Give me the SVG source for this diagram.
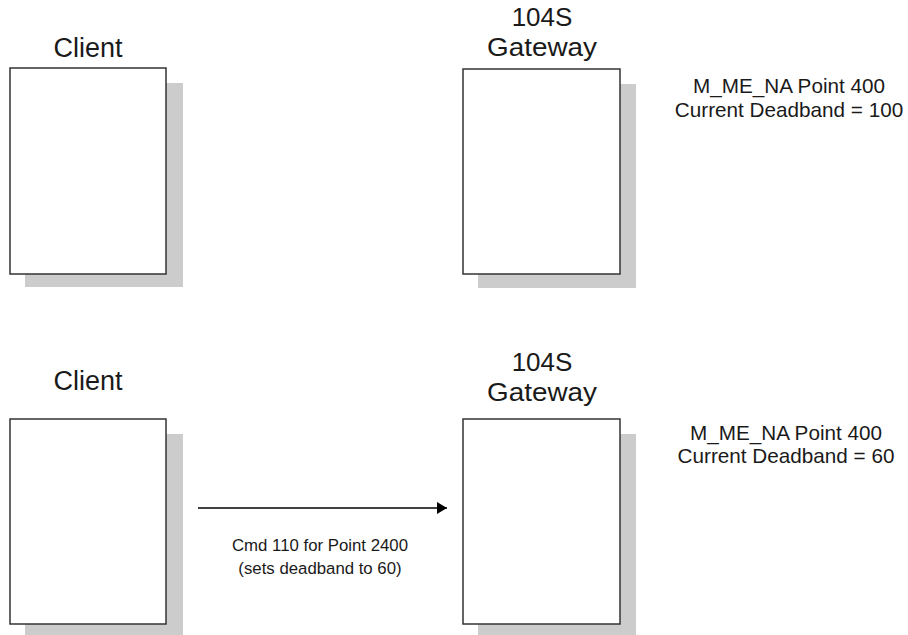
<svg xmlns="http://www.w3.org/2000/svg" width="908" height="635" viewBox="0 0 908 635">
<style>
.shadow{fill:#cccccc;stroke:none}
.box{fill:#ffffff;stroke:#333333;stroke-width:1.5}
.t{font-family:"Liberation Sans",Arial,sans-serif;fill:#1a1a1a;text-anchor:middle}
.xl{font-size:27px}
.gw{font-size:26px}
.lg{font-size:20.7px}
.sm{font-size:16.8px}
.conn{stroke:#000000;stroke-width:1.5;fill:none}
</style>
<defs>
<marker id="arr" markerWidth="10" markerHeight="12" refX="10" refY="6" orient="auto" markerUnits="userSpaceOnUse">
<path d="M0,0 L10,6 L0,12 Z" fill="#000000"/>
</marker>
</defs>
<rect width="908" height="635" fill="#ffffff"/>
<g id="client-top">
<rect class="shadow" x="25" y="83" width="158" height="204"/>
<rect class="box" x="10" y="68" width="156" height="206"/>
<text class="t xl" x="88" y="57">Client</text>
</g>
<g id="gateway-top">
<rect class="shadow" x="478" y="84" width="158" height="204"/>
<rect class="box" x="463" y="69" width="157" height="205"/>
<text class="t gw" x="542" y="26">104S</text>
<text class="t gw" x="542" y="56" textLength="110" lengthAdjust="spacingAndGlyphs">Gateway</text>
</g>
<g id="label-top">
<text class="t lg" x="789" y="93">M_ME_NA Point 400</text>
<text class="t lg" x="789" y="117">Current Deadband = 100</text>
</g>
<g id="client-bottom">
<rect class="shadow" x="25" y="434" width="158" height="210"/>
<rect class="box" x="10" y="419" width="156" height="205"/>
<text class="t xl" x="88" y="390">Client</text>
</g>
<g id="gateway-bottom">
<rect class="shadow" x="478" y="434" width="158" height="210"/>
<rect class="box" x="463" y="419" width="157" height="205"/>
<text class="t gw" x="542" y="371">104S</text>
<text class="t gw" x="542" y="401" textLength="110" lengthAdjust="spacingAndGlyphs">Gateway</text>
</g>
<g id="label-bottom">
<text class="t lg" x="786" y="440">M_ME_NA Point 400</text>
<text class="t lg" x="786" y="463">Current Deadband = 60</text>
</g>
<g id="connectors">
<line class="conn" x1="198" y1="508" x2="447" y2="508" marker-end="url(#arr)"/>
<text class="t sm" x="320" y="551">Cmd 110 for Point 2400</text>
<text class="t sm" x="320" y="574">(sets deadband to 60)</text>
</g>
</svg>
